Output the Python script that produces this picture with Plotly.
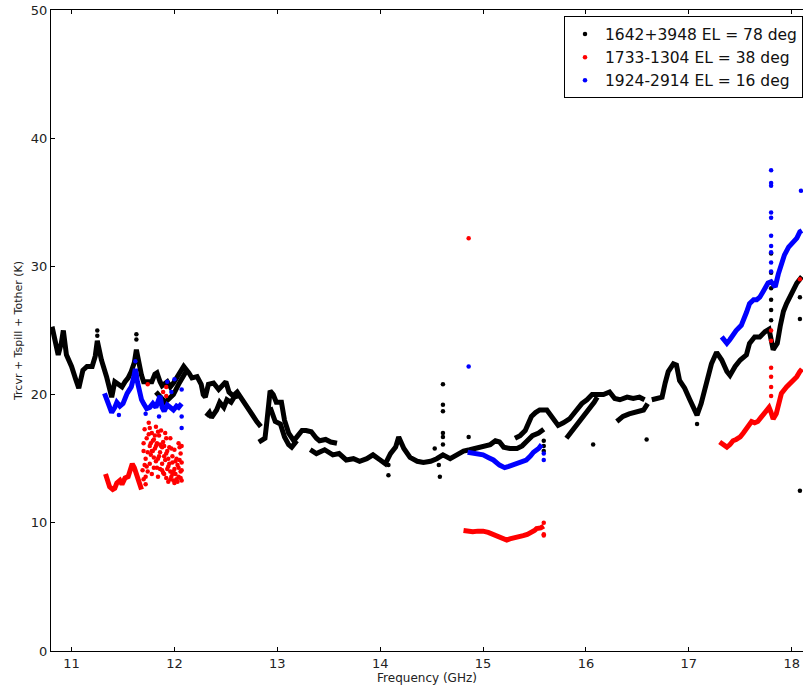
import plotly.graph_objects as go

# ---------------------------------------------------------------
# Receiver + spillover + other temperature vs. frequency for three
# calibrator sources. Each sweep is a list of tunings; None marks a
# break between separate tuning passes.
# ---------------------------------------------------------------

# 1642+3948, EL = 78 deg
black_freq = [
    10.81, 10.84, 10.87, 10.90, 10.92, 10.95, 11.00, 11.04, 11.07, 11.11, 11.15, 11.20,
    11.23, 11.25, 11.27, 11.29, 11.34, 11.37, 11.39, 11.42, 11.46, 11.49, 11.52, 11.55,
    11.58, 11.61, 11.63, 11.65, 11.68, 11.70, 11.74, 11.78, 11.81, 11.83, 11.86, 11.88,
    11.93, 11.96, 11.99, 12.03, 12.07, 12.09, 12.14, 12.17, 12.22, 12.26, 12.28, 12.30,
    12.33, 12.38, 12.43, 12.47, 12.50, 12.53, 12.57, 12.61, 12.65, 12.70, 12.74, 12.80,
    12.84, None,
    11.82, 11.86, 11.91, 11.95, 11.99, 12.04, 12.08, 12.12, None,
    12.31, 12.34, 12.36, 12.41, 12.44, 12.48, 12.51, 12.55, 12.58, 12.62, None,
    12.82, 12.85, 12.88, 12.90, 12.93, 12.96, 12.99, 13.04, 13.07, 13.11, 13.16, 13.20,
    13.24, 13.28, 13.33, 13.38, 13.41, 13.47, 13.52, 13.58, None,
    12.93, 12.98, 13.03, 13.07, 13.11, 13.14, 13.19, None,
    13.32, 13.38, 13.46, 13.54, 13.60, 13.67, 13.74, 13.80, 13.87, 13.93, 14.00, 14.05,
    14.10, 14.15, 14.18, 14.23, 14.29, 14.36, 14.42, 14.49, 14.55, 14.61, 14.68, 14.74,
    14.81, 14.87, 14.93, 14.98, 15.03, 15.07, 15.12, 15.16, 15.20, 15.26, 15.33, 15.38,
    15.43, 15.48, 15.54, 15.59, None,
    15.31, 15.36, 15.41, 15.47, 15.51, 15.55, 15.62, 15.67, 15.73, 15.78, 15.84, 15.90,
    15.96, 16.01, 16.06, 16.12, 16.17, 16.23, 16.28, 16.33, 16.40, 16.46, 16.52, 16.57, None,
    15.81, 15.87, 15.93, 15.98, 16.04, 16.08, 16.11, None,
    16.30, 16.36, 16.42, 16.49, 16.56, 16.60, None,
    16.64, 16.69, 16.74, 16.77, 16.80, 16.85, 16.88, 16.91, 16.96, 17.01, 17.06, 17.08,
    17.12, 17.17, 17.22, 17.27, 17.32, 17.37, 17.40, 17.45, 17.50, 17.56, 17.59, 17.64,
    17.69, 17.74, 17.78, 17.82, 17.86, 17.89, 17.92, 17.95, 18.00, 18.05, 18.10,
]
black_temp = [
    25.3, 24.3, 23.1, 24.0, 25.0, 23.1, 22.2, 21.2, 20.5, 21.9, 22.2, 22.2,
    23.0, 24.2, 23.2, 22.7, 21.4, 20.3, 19.8, 21.0, 20.8, 20.6, 21.0, 21.3,
    21.8, 22.5, 23.5, 22.5, 21.5, 21.0, 21.0, 21.0, 21.6, 21.7, 21.0, 20.7,
    21.0, 20.6, 20.9, 21.5, 22.1, 22.2, 21.7, 21.3, 21.4, 20.8, 20.0, 19.8,
    20.8, 20.9, 20.4, 20.8, 21.0, 20.2, 19.9, 20.2, 19.7, 19.0, 18.5, 17.9,
    17.5, None,
    20.2, 19.8, 19.4, 19.7, 20.0, 20.8, 21.4, 21.9, None,
    18.3, 18.6, 18.2, 18.8, 19.4, 19.0, 19.6, 19.4, 19.8, 19.9, None,
    16.3, 16.4, 16.6, 18.0, 20.3, 20.0, 19.4, 19.4, 18.0, 17.0, 16.4, 16.8,
    17.2, 17.2, 17.1, 16.6, 16.4, 16.5, 16.3, 16.2, None,
    19.0, 17.9, 17.7, 16.7, 16.1, 15.9, 16.4, None,
    15.7, 15.4, 15.7, 15.3, 15.4, 14.9, 15.0, 14.8, 15.0, 15.3, 14.9, 14.6,
    15.4, 15.9, 16.7, 15.8, 15.1, 14.8, 14.7, 14.8, 15.0, 15.3, 15.0, 15.3,
    15.6, 15.7, 15.8, 15.9, 16.0, 16.1, 16.4, 16.3, 15.9, 15.8, 15.8, 16.0,
    16.4, 16.8, 17.0, 17.3, None,
    16.6, 16.8, 17.2, 18.3, 18.6, 18.8, 18.8, 18.2, 17.6, 17.8, 18.1, 18.7,
    19.3, 19.6, 20.0, 20.0, 20.0, 20.2, 19.7, 19.6, 19.8, 19.7, 19.8, 19.6, None,
    16.6, 17.2, 17.9, 18.4, 18.9, 19.4, 19.8, None,
    17.9, 18.3, 18.5, 18.7, 18.8, 19.3, None,
    19.6, 19.7, 19.8, 20.9, 21.8, 22.4, 22.3, 21.1, 20.5, 19.6, 18.7, 18.4,
    19.3, 20.9, 22.4, 23.3, 22.7, 21.8, 21.5, 22.2, 22.7, 23.1, 24.0, 24.5,
    24.5, 24.9, 25.1, 23.5, 24.0, 25.4, 26.5, 27.1, 27.9, 28.7, 29.2,
]
black_spot_freq = [
    11.25, 11.25, 11.63, 11.63, 14.08, 14.08, 14.53, 14.57, 14.58, 14.61, 14.61, 14.61,
    14.61, 14.61, 14.61, 14.86, 15.59, 15.59, 15.59, 16.07, 16.59, 17.08, 17.80, 17.80,
    17.80, 17.80, 17.80, 17.80, 18.08, 18.08, 18.08,
]
black_spot_temp = [
    25.0, 24.6, 24.7, 24.3, 14.5, 13.7, 15.8, 14.5, 13.6, 20.8, 19.2, 18.7,
    17.0, 16.7, 16.1, 16.7, 15.6, 16.0, 16.4, 16.1, 16.5, 17.7, 31.0, 29.5,
    28.3, 27.4, 26.6, 25.8, 27.6, 25.9, 12.5,
]

# 1733-1304, EL = 38 deg
red_freq = [
    11.33, 11.35, 11.37, 11.40, 11.42, 11.44, 11.47, 11.49, 11.52, 11.55, 11.57, 11.59,
    11.61, 11.63, 11.65, 11.67, 11.68, None,
    14.81, 14.85, 14.90, 14.95, 15.00, 15.05, 15.10, 15.15, 15.20, 15.23, 15.26, 15.30,
    15.35, 15.39, 15.43, 15.46, 15.50, 15.52, 15.56, 15.59, None,
    17.30, 17.33, 17.37, 17.40, 17.43, 17.46, 17.50, 17.53, 17.56, 17.58, 17.61, 17.64,
    17.67, 17.70, 17.74, 17.78, 17.80, 17.82, 17.85, 17.88, 17.90, 17.95, 18.00, 18.05,
    18.08, 18.10,
]
red_temp = [
    13.8, 13.4, 12.8, 12.6, 12.7, 13.1, 13.3, 13.0, 13.5, 13.6, 14.0, 14.6,
    14.3, 13.8, 13.6, 13.0, 12.6, None,
    9.40, 9.35, 9.30, 9.35, 9.35, 9.25, 9.10, 8.90, 8.70, 8.65, 8.75, 8.80,
    8.90, 9.00, 9.10, 9.20, 9.40, 9.55, 9.60, 9.75, None,
    16.3, 16.1, 15.9, 16.1, 16.4, 16.5, 16.7, 17.0, 17.4, 17.6, 17.9, 17.8,
    17.9, 18.2, 18.6, 19.0, 18.6, 18.1, 18.5, 19.5, 20.1, 20.6, 21.0, 21.4,
    21.8, 22.0,
]
red_spot_freq = [
    11.69, 11.70, 11.70, 11.71, 11.72, 11.72, 11.73, 11.74, 11.74, 11.75, 11.76, 11.76,
    11.77, 11.78, 11.78, 11.79, 11.80, 11.80, 11.81, 11.82, 11.82, 11.83, 11.84, 11.84,
    11.85, 11.86, 11.86, 11.87, 11.88, 11.88, 11.89, 11.90, 11.90, 11.91, 11.92, 11.92,
    11.93, 11.94, 11.94, 11.95, 11.96, 11.96, 11.97, 11.98, 11.98, 11.99, 12.00, 12.00,
    12.01, 12.02, 12.02, 12.03, 12.04, 12.04, 12.05, 12.06, 12.06, 12.07, 12.07, 12.07,
    11.70, 11.71, 11.73, 11.75, 11.77, 11.79, 11.81, 11.83, 11.85, 11.87, 11.89, 11.91,
    11.93, 11.95, 11.97, 11.99, 12.01, 12.03, 12.05, 12.07, 11.72, 11.76, 11.80, 11.84,
    11.88, 11.92, 11.96, 12.00, 12.04, 12.06, 11.78, 11.82, 11.86, 11.90, 11.94, 11.98,
    11.74, 11.92, 11.92, 11.89, 14.86, 15.59, 15.59, 15.59,
    17.80, 17.80, 17.80, 17.80, 17.80, 17.80, 18.08,
]
red_spot_temp = [
    14.1, 16.2, 13.4, 17.3, 15.0, 13.0, 16.6, 15.5, 14.0, 17.8, 16.0, 14.6,
    15.3, 17.0, 13.8, 16.4, 15.1, 14.3, 15.8, 17.5, 14.8, 16.2, 15.0, 13.6,
    16.8, 15.5, 14.2, 17.2, 15.9, 14.6, 16.3, 15.2, 13.8, 14.9, 16.6, 13.5,
    15.6, 14.4, 13.2, 15.9, 14.0, 16.6, 13.6, 15.2, 14.7, 13.3, 15.7, 14.2,
    13.8, 15.0, 13.4, 14.5, 16.2, 13.6, 14.9, 13.5, 15.4, 14.1, 13.3, 16.0,
    15.6, 14.5, 14.4, 16.9, 16.2, 15.6, 16.8, 14.3, 15.2, 16.0, 13.9, 17.0,
    14.2, 14.6, 15.8, 14.0, 14.8, 13.2, 15.9, 14.7, 13.6, 17.4, 16.5, 17.1,
    14.1, 15.4, 13.4, 13.1, 14.3, 14.0, 15.6, 16.0, 16.1, 16.0, 15.0, 13.8,
    20.8, 20.6, 19.9, 20.2, 32.2, 10.0, 9.1, 9.0,
    25.0, 24.2, 22.1, 21.4, 20.6, 19.9, 29.0,
]

# 1924-2914, EL = 16 deg
blue_freq = [
    11.32, 11.35, 11.37, 11.39, 11.42, 11.44, 11.47, 11.50, 11.54, 11.56, 11.58, 11.60,
    11.62, 11.64, 11.66, 11.68, 11.70, 11.73, 11.76, 11.79, 11.82, 11.84, 11.86, 11.88,
    11.90, 11.93, 11.96, 11.99, 12.02, 12.04, 12.07, None,
    14.85, 14.90, 14.95, 15.00, 15.05, 15.10, 15.16, 15.21, 15.25, 15.28, 15.32, 15.36,
    15.42, 15.46, 15.49, 15.54, 15.57, None,
    17.32, 17.35, 17.37, 17.40, 17.43, 17.46, 17.51, 17.54, 17.56, 17.59, 17.63, 17.66,
    17.69, 17.72, 17.74, 17.77, 17.80, 17.82, 17.84, 17.87, 17.90, 17.93, 17.97, 18.00,
    18.05, 18.08, 18.10,
]
blue_temp = [
    20.1, 19.4, 19.0, 18.6, 19.0, 19.4, 19.1, 19.3, 20.1, 20.4, 20.6, 21.2,
    22.0, 21.0, 20.2, 19.6, 19.3, 18.9, 19.0, 19.3, 19.0, 19.6, 19.9, 19.0,
    18.7, 19.2, 19.0, 18.8, 19.1, 19.0, 19.3, None,
    15.5, 15.4, 15.3, 15.3, 15.1, 14.9, 14.5, 14.3, 14.4, 14.5, 14.6, 14.8,
    14.9, 15.2, 15.5, 15.8, 16.1, None,
    24.5, 24.2, 24.0, 24.3, 24.7, 25.0, 25.4, 25.9, 26.4, 27.1, 27.4, 27.4,
    27.6, 28.0, 28.3, 28.7, 28.8, 28.5, 28.4, 29.4, 30.2, 30.9, 31.5, 31.8,
    32.2, 32.7, 32.8,
]
blue_spot_freq = [
    11.62, 11.63, 12.07, 12.07, 12.07, 12.00, 11.93, 11.46, 11.72, 11.85, 11.97, 14.86,
    15.59, 15.59,
    17.80, 17.80, 17.80, 17.80, 17.80, 17.80, 17.80, 17.80, 17.80, 17.80, 18.09,
]
blue_spot_temp = [
    22.6, 21.6, 17.4, 18.3, 20.4, 21.2, 21.0, 18.4, 18.5, 18.3, 20.2, 22.2,
    15.4, 14.9,
    37.5, 36.5, 36.3, 34.2, 33.8, 32.4, 31.6, 31.1, 30.3, 29.6, 35.9,
]

labels = ["1642+3948 EL = 78 deg", "1733-1304 EL = 38 deg", "1924-2914 EL = 16 deg"]
colors = ["#000000", "#ff0000", "#0000ff"]
sweeps = [
    (black_freq, black_temp, black_spot_freq, black_spot_temp),
    (red_freq, red_temp, red_spot_freq, red_spot_temp),
    (blue_freq, blue_temp, blue_spot_freq, blue_spot_temp),
]

fig = go.Figure()
for (fx, ty, sx, sy), name, col in zip(sweeps, labels, colors):
    fig.add_trace(go.Scatter(
        x=fx, y=ty, mode="lines", connectgaps=False,
        line=dict(color=col, width=5), showlegend=False,
        legendgroup=name, hoverinfo="skip",
    ))
    fig.add_trace(go.Scatter(
        x=sx, y=sy, mode="markers", name=name, legendgroup=name,
        marker=dict(color=col, size=4.5, line=dict(width=0)),
    ))

axis_font = dict(family="DejaVu Sans", size=13, color="#222222")
fig.update_layout(
    width=803, height=688,
    margin=dict(l=51, r=0, t=10, b=37, autoexpand=False),
    paper_bgcolor="white", plot_bgcolor="white",
    font=dict(family="DejaVu Sans", color="#222222"),
    showlegend=True,
    legend=dict(
        x=1, xanchor="right", y=0.99, yanchor="top",
        bgcolor="white", bordercolor="#000000", borderwidth=1,
        font=dict(family="DejaVu Sans", size=15.5, color="#111111"),
        itemsizing="trace", tracegroupgap=0,
    ),
    xaxis=dict(
        range=[10.8, 18.11], tickvals=[11, 12, 13, 14, 15, 16, 17, 18],
        ticks="inside", ticklen=4, tickcolor="#000000",
        showline=True, linecolor="#000000", linewidth=1, mirror="ticks",
        showgrid=False, zeroline=False, tickfont=axis_font,
        title=dict(text="Frequency (GHz)", font=dict(family="DejaVu Sans", size=12, color="#222222"), standoff=2),
    ),
    yaxis=dict(
        range=[0, 50], tickvals=[0, 10, 20, 30, 40, 50],
        ticks="inside", ticklen=4, tickcolor="#000000",
        showline=True, linecolor="#000000", linewidth=1,
        showgrid=False, zeroline=False, tickfont=axis_font,
        title=dict(text="Trcvr + Tspill + Tother (K)", font=dict(family="DejaVu Sans", size=11, color="#222222"), standoff=6),
    ),
)

fig.write_html("out.html", config={"displayModeBar": False})
